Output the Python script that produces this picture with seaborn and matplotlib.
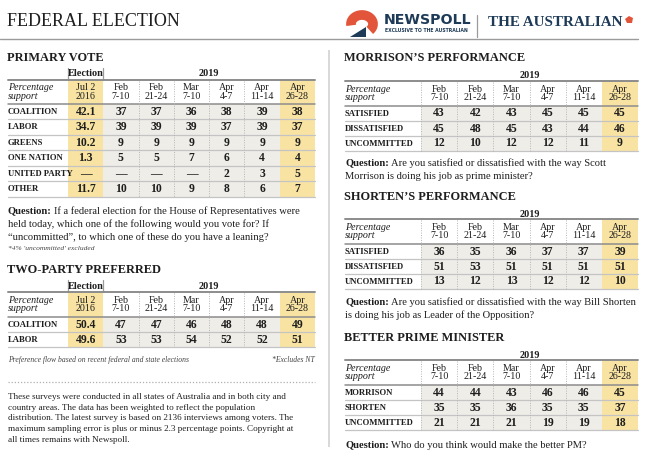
import numpy as np
import seaborn as sns
import matplotlib.pyplot as plt
from matplotlib.colors import ListedColormap
from matplotlib.patches import Polygon, Rectangle

sns.set_style("white")
plt.rcParams['font.family'] = ['Liberation Serif', 'DejaVu Serif']

W, H = 650, 461

# ---------------- data ----------------
dates = ["Feb\n7-10", "Feb\n21-24", "Mar\n7-10", "Apr\n4-7", "Apr\n11-14", "Apr\n26-28"]
election_date = "Jul 2\n2016"

primary_labels = ["COALITION", "LABOR", "GREENS", "ONE NATION", "UNITED PARTY", "OTHER"]
primary_election = [42.1, 34.7, 10.2, 1.3, None, 11.7]
primary_2019 = [[37, 37, 36, 38, 39, 38],
                [39, 39, 39, 37, 39, 37],
                [9, 9, 9, 9, 9, 9],
                [5, 5, 7, 6, 4, 4],
                [None, None, None, 2, 3, 5],
                [10, 10, 9, 8, 6, 7]]

tpp_labels = ["COALITION", "LABOR"]
tpp_election = [50.4, 49.6]
tpp_2019 = [[47, 47, 46, 48, 48, 49],
            [53, 53, 54, 52, 52, 51]]

morrison_labels = ["SATISFIED", "DISSATISFIED", "UNCOMMITTED"]
morrison_2019 = [[43, 42, 43, 45, 45, 45],
                 [45, 48, 45, 43, 44, 46],
                 [12, 10, 12, 12, 11, 9]]

shorten_labels = ["SATISFIED", "DISSATISFIED", "UNCOMMITTED"]
shorten_2019 = [[36, 35, 36, 37, 37, 39],
                [51, 53, 51, 51, 51, 51],
                [13, 12, 13, 12, 12, 10]]

bpm_labels = ["MORRISON", "SHORTEN", "UNCOMMITTED"]
bpm_2019 = [[44, 44, 43, 46, 46, 45],
            [35, 35, 36, 35, 35, 37],
            [21, 21, 21, 19, 19, 18]]

# ---------------- style ----------------
YELLOW = "#f8e3a3"
GREY = "#efede8"
INK = "#1e1e1e"
NAVY = "#1d3a57"
cmap = ListedColormap(["white", GREY, YELLOW])

fig = plt.figure(figsize=(6.5, 4.61), dpi=100)
ax = fig.add_axes([0, 0, 1, 1])
ax.set_xlim(0, W)
ax.set_ylim(H, 0)
ax.axis("off")
ax.set_zorder(10)
ax.patch.set_visible(False)


def fmt(v):
    if v is None:
        return "—"
    return str(v)


def heat(x0, y0, x1, y1, colors, annot, bold):
    a = fig.add_axes([x0 / W, 1 - y1 / H, (x1 - x0) / W, (y1 - y0) / H])
    sns.heatmap(colors, ax=a, cmap=cmap, vmin=-0.5, vmax=2.5, cbar=False,
                annot=annot, fmt="", xticklabels=False, yticklabels=False,
                linewidths=0,
                annot_kws=dict(fontsize=8.4 if bold else 7.2,
                               fontweight="bold" if bold else "normal",
                               color=INK, linespacing=0.95))
    a.axis("off")
    return a


def table(left, x0, x1, y_grp, y_hdr, y_body, row_h, labels, values,
          election=None):
    ncol = 6 + (1 if election is not None else 0)
    cw = (x1 - x0) / ncol
    nrow = len(labels)
    y_end = y_body + nrow * row_h
    # header row
    hdr_txt = ([election_date] if election is not None else []) + dates
    hdr_col = np.zeros((1, ncol))
    hdr_col[0, -1] = 2
    if election is not None:
        hdr_col[0, 0] = 2
    heat(x0, y_hdr, x1, y_body, hdr_col, np.array([hdr_txt]), False)
    # body rows
    body_txt = []
    for i in range(nrow):
        row = ([fmt(election[i])] if election is not None else []) + [fmt(v) for v in values[i]]
        body_txt.append(row)
    body_col = np.ones((nrow, ncol))
    body_col[:, -1] = 2
    if election is not None:
        body_col[:, 0] = 2
    heat(x0, y_body, x1, y_end, body_col, np.array(body_txt), True)
    # group header
    if election is not None:
        ax.text(x0 + cw / 2, y_grp, "Election", ha="center", va="center",
                fontsize=7.4, fontweight="bold", color=INK)
        ax.plot([x0, x0], [y_hdr - 12, y_hdr], color="#9a9a9a", lw=0.9)
        ax.plot([x0 + cw, x0 + cw], [y_hdr - 12, y_hdr], color="#9a9a9a", lw=0.9)
        ax.text((x0 + cw + x1) / 2, y_grp, "2019", ha="center", va="center",
                fontsize=7.4, fontweight="bold", color=INK)
    else:
        ax.text((x0 + x1) / 2, y_grp, "2019", ha="center", va="center",
                fontsize=7.4, fontweight="bold", color=INK)
    ax.text(left, (y_hdr + y_body) / 2, "Percentage\nsupport", ha="left",
            va="center", fontsize=7.2, style="italic", color=INK, linespacing=0.95)
    # lines
    ax.plot([left, x1], [y_hdr, y_hdr], color="#8c8c8c", lw=1.4)
    ax.plot([left, x1], [y_body, y_body], color="#8c8c8c", lw=1.1)
    for i in range(1, nrow + 1):
        ax.plot([left, x1], [y_body + i * row_h] * 2, color="#c4c4c4", lw=0.9)
    start = 1 if election is not None else 0
    for k in range(start, ncol - 1):
        xx = x0 + k * cw
        if election is not None and k == 1:
            continue
        ax.plot([xx, xx], [y_hdr + 1, y_end], color="#b5b5b5", lw=0.7,
                ls=(0, (1, 1.5)))
    for i, lab in enumerate(labels):
        ax.text(left, y_body + (i + 0.5) * row_h, lab, ha="left", va="center",
                fontsize=6.2, fontweight="bold", color=INK)


def question(x, y, lines, size=7.6):
    r = fig.canvas.get_renderer()
    t = ax.text(x, y, "Question:", ha="left", va="center", fontsize=size,
                fontweight="bold", color=INK)
    bb = t.get_window_extent(renderer=r)
    wpx = bb.width * W / fig.bbox.width
    ax.text(x + wpx + 2.5, y, lines[0], ha="left", va="center", fontsize=size,
            color=INK)
    for i, ln in enumerate(lines[1:]):
        ax.text(x, y + (i + 1) * 13.0, ln, ha="left", va="center",
                fontsize=size, color=INK)


# ---------------- masthead ----------------
ax.text(7, 22, "FEDERAL ELECTION", ha="left", va="center", fontsize=13.0,
        color=INK)
ax.plot([0, 638], [39, 39], color="#9b9b9b", lw=1.0)

# newspoll mark
th = np.linspace(np.pi * 1.05, -np.pi * 0.25, 40)
ax.plot(362 + 11 * np.cos(th), 24 - 9 * np.sin(th), color="#e2553a", lw=7,
        solid_capstyle="butt")
ax.add_patch(Polygon([[350, 37], [366, 37], [366, 27]], closed=True,
                     color=NAVY, lw=0))
ax.text(384, 20, "NEWSPOLL", ha="left", va="center", fontsize=10.2,
        fontweight="bold", family="DejaVu Sans", color=NAVY)
ax.text(385, 30, "EXCLUSIVE TO THE AUSTRALIAN", ha="left", va="center",
        fontsize=3.3, fontweight="bold", family="DejaVu Sans", color=NAVY)
ax.plot([477, 477], [15, 37], color="#9b9b9b", lw=0.9)
ax.text(488, 22, "THE AUSTRALIAN", ha="left", va="center", fontsize=10.9,
        fontweight="bold", color=NAVY)
ax.add_patch(Polygon([[625, 19], [629, 16], [633, 18], [632, 23], [627, 23]],
                     closed=True, color="#e2553a", lw=0))

# panel divider
ax.add_patch(Rectangle((328, 50), 2.2, 397, color="#d9d9d9", lw=0))

# ---------------- left panel ----------------
ax.text(7, 58, "PRIMARY VOTE", ha="left", va="center", fontsize=8.9,
        fontweight="bold", color=INK)
table(8, 68, 315, 74, 80, 104, 15.5, primary_labels, primary_2019,
      primary_election)
question(8, 211, ["If a federal election for the House of Representatives were",
                  "held today, which one of the following would you vote for? If",
                  "“uncommitted”, to which one of these do you have a leaning?"])
ax.text(8, 248, "*4% 'uncommitted' excluded", ha="left", va="center",
        fontsize=5.4, style="italic", color="#444444")

ax.text(7, 270, "TWO-PARTY PREFERRED", ha="left", va="center", fontsize=8.9,
        fontweight="bold", color=INK)
table(8, 68, 315, 286, 292, 317, 15.2, tpp_labels, tpp_2019, tpp_election)
ax.text(8, 360, "Preference flow based on recent federal and state elections",
        ha="left", va="center", fontsize=5.5, style="italic", color="#444444")
ax.text(315, 360, "*Excludes NT", ha="right", va="center", fontsize=5.5,
        style="italic", color="#444444")
ax.plot([8, 315], [382, 382], color="#b0b0b0", lw=0.9, ls=(0, (1, 1.5)))

para = ["These surveys were conducted in all states of Australia and in both city and",
        "country areas. The data has been weighted to reflect the population",
        "distribution. The latest survey is based on 2136 interviews among voters. The",
        "maximum sampling error is plus or minus 2.3 percentage points. Copyright at",
        "all times remains with Newspoll."]
for i, ln in enumerate(para):
    ax.text(8, 397 + i * 10.7, ln, ha="left", va="center", fontsize=6.6,
            color=INK)

# ---------------- right panel ----------------
ax.text(344, 58, "MORRISON’S PERFORMANCE", ha="left", va="center",
        fontsize=8.9, fontweight="bold", color=INK)
table(345, 421, 638, 76, 81, 106, 15, morrison_labels, morrison_2019)
question(345, 163, ["Are you satisfied or dissatisfied with the way Scott",
                    "Morrison is doing his job as prime minister?"])

ax.text(344, 197, "SHORTEN’S PERFORMANCE", ha="left", va="center",
        fontsize=8.9, fontweight="bold", color=INK)
table(345, 421, 638, 214, 219, 244, 15, shorten_labels, shorten_2019)
question(345, 302, ["Are you satisfied or dissatisfied with the way Bill Shorten",
                    "is doing his job as Leader of the Opposition?"])

ax.text(344, 338, "BETTER PRIME MINISTER", ha="left", va="center",
        fontsize=8.9, fontweight="bold", color=INK)
table(345, 421, 638, 355, 360, 385, 15, bpm_labels, bpm_2019)
question(345, 445, ["Who do you think would make the better PM?"])

fig.savefig("out.png", dpi=100)
